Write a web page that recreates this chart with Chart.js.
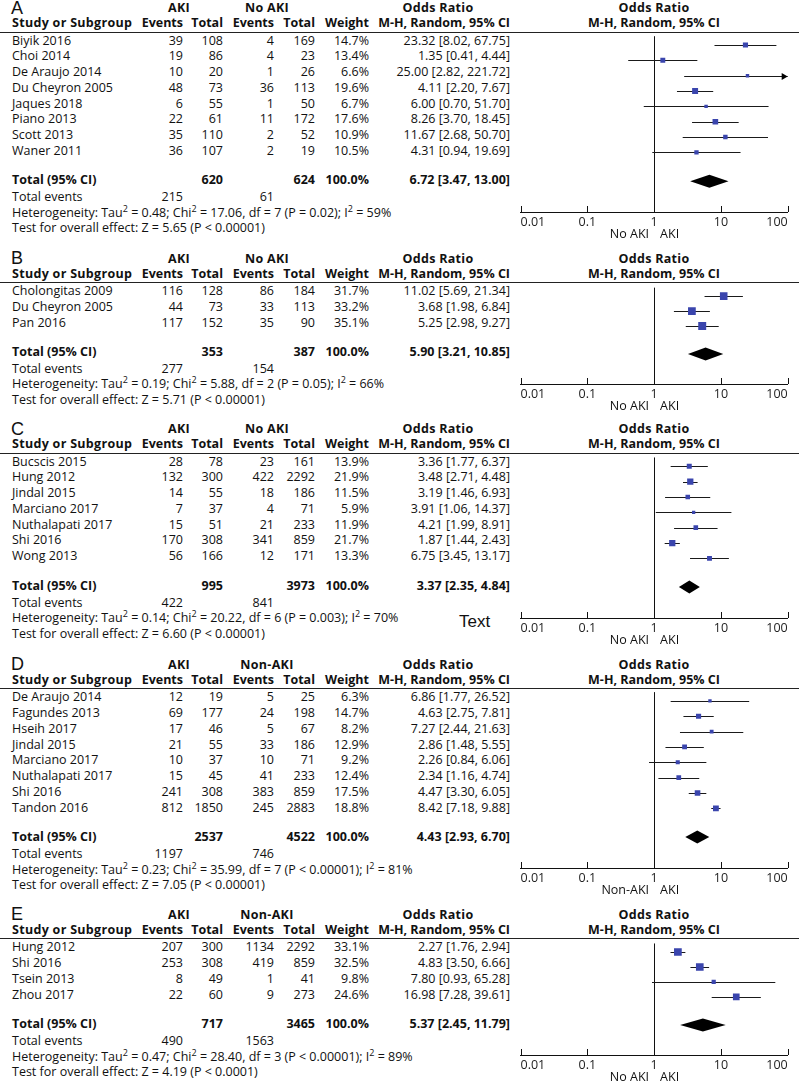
<!DOCTYPE html>
<html>
<head>
<meta charset="utf-8">
<script src="https://cdn.jsdelivr.net/npm/chart.js@4.4.1/dist/chart.umd.min.js"></script>
<style>
    body { margin: 0; background: #fff; }
    #page { position: relative; width: 799px; height: 1085px; overflow: hidden;
            font-family: "Open Sans", sans-serif; font-size: 12.5px; color: #111; }
    .t { position: absolute; white-space: nowrap; line-height: 16px; height: 16px; }
    .b { font-weight: bold; }
    .hd { letter-spacing: 0.3px; }
    .letter { font-family: "Liberation Sans", sans-serif; font-size: 18px; }
    .big { font-family: "Liberation Sans", sans-serif; font-size: 17px; }
    .rule { position: absolute; left: 0; width: 799px; height: 1px; background: #222; }
    sup { font-size: 9px; line-height: 0; vertical-align: 5px; }
    canvas { position: absolute; }
</style>
</head>
<body>
<div id="page"></div>
<script>
// x axis ticks
var tickValues = [0.01, 0.1, 1, 10, 100];
var tickLabels = ['0.01', '0.1', '1', '10', '100'];

// Panel A
var studiesA = ['Biyik 2016', 'Choi 2014', 'De Araujo 2014', 'Du Cheyron 2005', 'Jaques 2018', 'Piano 2013', 'Scott 2013', 'Waner 2011'];
var akiEventsA = [39, 19, 10, 48, 6, 22, 35, 36];
var akiTotalA = [108, 86, 20, 73, 55, 61, 110, 107];
var ctlEventsA = [4, 4, 1, 36, 1, 11, 2, 2];
var ctlTotalA = [169, 23, 26, 113, 50, 172, 52, 19];
var weightA = [14.7, 13.4, 6.6, 19.6, 6.7, 17.6, 10.9, 10.5];
var orA = [23.32, 1.35, 25.00, 4.11, 6.00, 8.26, 11.67, 4.31];
var lowA = [8.02, 0.41, 2.82, 2.20, 0.70, 3.70, 2.68, 0.94];
var highA = [67.75, 4.44, 221.72, 7.67, 51.70, 18.45, 50.70, 19.69];
var pooledA = [6.72, 3.47, 13.00];
var totalsA = [620, 624];
var eventsA = [215, 61];
var hetA = 'Tau<sup>2</sup> = 0.48; Chi<sup>2</sup> = 17.06, df = 7 (P = 0.02); I<sup>2</sup> = 59%';
var testA = 'Z = 5.65 (P &lt; 0.00001)';

// Panel B
var studiesB = ['Cholongitas 2009', 'Du Cheyron 2005', 'Pan 2016'];
var akiEventsB = [116, 44, 117];
var akiTotalB = [128, 73, 152];
var ctlEventsB = [86, 33, 35];
var ctlTotalB = [184, 113, 90];
var weightB = [31.7, 33.2, 35.1];
var orB = [11.02, 3.68, 5.25];
var lowB = [5.69, 1.98, 2.98];
var highB = [21.34, 6.84, 9.27];
var pooledB = [5.90, 3.21, 10.85];
var totalsB = [353, 387];
var eventsB = [277, 154];
var hetB = 'Tau<sup>2</sup> = 0.19; Chi<sup>2</sup> = 5.88, df = 2 (P = 0.05); I<sup>2</sup> = 66%';
var testB = 'Z = 5.71 (P &lt; 0.00001)';

// Panel C
var studiesC = ['Bucscis 2015', 'Hung 2012', 'Jindal 2015', 'Marciano 2017', 'Nuthalapati 2017', 'Shi 2016', 'Wong 2013'];
var akiEventsC = [28, 132, 14, 7, 15, 170, 56];
var akiTotalC = [78, 300, 55, 37, 51, 308, 166];
var ctlEventsC = [23, 422, 18, 4, 21, 341, 12];
var ctlTotalC = [161, 2292, 186, 71, 233, 859, 171];
var weightC = [13.9, 21.9, 11.5, 5.9, 11.9, 21.7, 13.3];
var orC = [3.36, 3.48, 3.19, 3.91, 4.21, 1.87, 6.75];
var lowC = [1.77, 2.71, 1.46, 1.06, 1.99, 1.44, 3.45];
var highC = [6.37, 4.48, 6.93, 14.37, 8.91, 2.43, 13.17];
var pooledC = [3.37, 2.35, 4.84];
var totalsC = [995, 3973];
var eventsC = [422, 841];
var hetC = 'Tau<sup>2</sup> = 0.14; Chi<sup>2</sup> = 20.22, df = 6 (P = 0.003); I<sup>2</sup> = 70%';
var testC = 'Z = 6.60 (P &lt; 0.00001)';

// Panel D
var studiesD = ['De Araujo 2014', 'Fagundes 2013', 'Hseih 2017', 'Jindal 2015', 'Marciano 2017', 'Nuthalapati 2017', 'Shi 2016', 'Tandon 2016'];
var akiEventsD = [12, 69, 17, 21, 10, 15, 241, 812];
var akiTotalD = [19, 177, 46, 55, 37, 45, 308, 1850];
var ctlEventsD = [5, 24, 5, 33, 10, 41, 383, 245];
var ctlTotalD = [25, 198, 67, 186, 71, 233, 859, 2883];
var weightD = [6.3, 14.7, 8.2, 12.9, 9.2, 12.4, 17.5, 18.8];
var orD = [6.86, 4.63, 7.27, 2.86, 2.26, 2.34, 4.47, 8.42];
var lowD = [1.77, 2.75, 2.44, 1.48, 0.84, 1.16, 3.30, 7.18];
var highD = [26.52, 7.81, 21.63, 5.55, 6.06, 4.74, 6.05, 9.88];
var pooledD = [4.43, 2.93, 6.70];
var totalsD = [2537, 4522];
var eventsD = [1197, 746];
var hetD = 'Tau<sup>2</sup> = 0.23; Chi<sup>2</sup> = 35.99, df = 7 (P &lt; 0.00001); I<sup>2</sup> = 81%';
var testD = 'Z = 7.05 (P &lt; 0.00001)';

// Panel E
var studiesE = ['Hung 2012', 'Shi 2016', 'Tsein 2013', 'Zhou 2017'];
var akiEventsE = [207, 253, 8, 22];
var akiTotalE = [300, 308, 49, 60];
var ctlEventsE = [1134, 419, 1, 9];
var ctlTotalE = [2292, 859, 41, 273];
var weightE = [33.1, 32.5, 9.8, 24.6];
var orE = [2.27, 4.83, 7.80, 16.98];
var lowE = [1.76, 3.50, 0.93, 7.28];
var highE = [2.94, 6.66, 65.28, 39.61];
var pooledE = [5.37, 2.45, 11.79];
var totalsE = [717, 3465];
var eventsE = [490, 1563];
var hetE = 'Tau<sup>2</sup> = 0.47; Chi<sup>2</sup> = 28.40, df = 3 (P &lt; 0.00001); I<sup>2</sup> = 89%';
var testE = 'Z = 4.19 (P &lt; 0.0001)';

var panels = [
    { letter: 'A', first: 40.7, group: 'No AKI', axis: 'No AKI', studies: studiesA, ae: akiEventsA, at: akiTotalA, ce: ctlEventsA, ct: ctlTotalA, w: weightA, or: orA, lo: lowA, hi: highA, pooled: pooledA, totals: totalsA, events: eventsA, het: hetA, test: testA },
    { letter: 'B', first: 291, group: 'No AKI', axis: 'No AKI', studies: studiesB, ae: akiEventsB, at: akiTotalB, ce: ctlEventsB, ct: ctlTotalB, w: weightB, or: orB, lo: lowB, hi: highB, pooled: pooledB, totals: totalsB, events: eventsB, het: hetB, test: testB },
    { letter: 'C', first: 461.7, group: 'No AKI', axis: 'No AKI', studies: studiesC, ae: akiEventsC, at: akiTotalC, ce: ctlEventsC, ct: ctlTotalC, w: weightC, or: orC, lo: lowC, hi: highC, pooled: pooledC, totals: totalsC, events: eventsC, het: hetC, test: testC },
    { letter: 'D', first: 697.3, group: 'Non-AKI', axis: 'Non-AKI', studies: studiesD, ae: akiEventsD, at: akiTotalD, ce: ctlEventsD, ct: ctlTotalD, w: weightD, or: orD, lo: lowD, hi: highD, pooled: pooledD, totals: totalsD, events: eventsD, het: hetD, test: testD },
    { letter: 'E', first: 947.3, group: 'Non-AKI', axis: 'No AKI', studies: studiesE, ae: akiEventsE, at: akiTotalE, ce: ctlEventsE, ct: ctlTotalE, w: weightE, or: orE, lo: lowE, hi: highE, pooled: pooledE, totals: totalsE, events: eventsE, het: hetE, test: testE }
];

var page = document.getElementById('page');
var UNIT = 15.75;
var YMIN = -0.57;

function txt(s, x, y, align, cls) {
    var d = document.createElement('div');
    d.className = 't ' + (cls || '');
    d.innerHTML = s;
    d.style.top = (y - 8) + 'px';
    if (align === 'r') {
        d.style.right = (799 - x) + 'px';
    } else if (align === 'c') {
        d.style.left = x + 'px';
        d.style.transform = 'translateX(-50%)';
    } else {
        d.style.left = x + 'px';
    }
    page.appendChild(d);
}

function ciText(o, l, h) {
    return o.toFixed(2) + ' [' + l.toFixed(2) + ', ' + h.toFixed(2) + ']';
}

panels.forEach(function (p) {
    var n = p.studies.length;
    var ymax = n + 2.88;
    var tot = n + 0.87;
    var rule = p.first + YMIN * UNIT;
    var rowY = function (i) { return p.first + i * UNIT; };

    // header
    txt(p.letter, 11, rule - 24, 'l', 'letter');
    txt('AKI', 179, rule - 23.5, 'c', 'b hd');
    txt(p.group, 267, rule - 23.5, 'c', 'b hd');
    txt('Odds Ratio', 438, rule - 23.5, 'c', 'b hd');
    txt('Odds Ratio', 654, rule - 23.5, 'c', 'b hd');
    var hy = rule - 8.3;
    txt('Study or Subgroup', 12, hy, 'l', 'b hd');
    txt('Events', 183, hy, 'r', 'b');
    txt('Total', 223, hy, 'r', 'b');
    txt('Events', 274, hy, 'r', 'b');
    txt('Total', 315, hy, 'r', 'b');
    txt('Weight', 369, hy, 'r', 'b');
    txt('M-H, Random, 95% CI', 510, hy, 'r', 'b');
    txt('M-H, Random, 95% CI', 654, hy, 'c', 'b');

    var rl = document.createElement('div');
    rl.className = 'rule';
    rl.style.top = Math.round(rule) + 'px';
    page.appendChild(rl);

    // study rows
    p.studies.forEach(function (s, i) {
        var y = rowY(i);
        txt(s, 12, y, 'l');
        txt(p.ae[i], 183, y, 'r');
        txt(p.at[i], 223, y, 'r');
        txt(p.ce[i], 274, y, 'r');
        txt(p.ct[i], 315, y, 'r');
        txt(p.w[i].toFixed(1) + '%', 369, y, 'r');
        txt(ciText(p.or[i], p.lo[i], p.hi[i]), 510, y, 'r');
    });

    // total rows
    var ty = rowY(tot);
    txt('Total (95% CI)', 12, ty, 'l', 'b');
    txt(p.totals[0], 223, ty, 'r', 'b');
    txt(p.totals[1], 315, ty, 'r', 'b');
    txt('100.0%', 369, ty, 'r', 'b');
    txt(ciText(p.pooled[0], p.pooled[1], p.pooled[2]), 510, ty, 'r', 'b');
    txt('Total events', 12, ty + 17, 'l');
    txt(p.events[0], 183, ty + 17, 'r');
    txt(p.events[1], 274, ty + 17, 'r');
    txt('Heterogeneity: ' + p.het, 12, ty + 32.5, 'l');
    txt('Test for overall effect: ' + p.test, 12, ty + 48, 'l');

    // forest plot
    var areaH = (ymax - YMIN) * UNIT;
    var cv = document.createElement('canvas');
    cv.width = 299;
    cv.height = Math.round(areaH + 30);
    cv.style.left = '500px';
    cv.style.top = Math.round(rule) + 'px';
    page.appendChild(cv);

    var forest = {
        id: 'forest',
        beforeDatasetsDraw: function (chart) {
            var ctx = chart.ctx, xs = chart.scales.x, ys = chart.scales.y;
            ctx.save();
            ctx.strokeStyle = '#1a1a1a';
            ctx.fillStyle = '#000';
            ctx.lineWidth = 1;
            p.lo.forEach(function (lo, i) {
                var y = Math.round(ys.getPixelForValue(i)) + 0.5;
                var hi = Math.min(p.hi[i], xs.max);
                var x2 = xs.getPixelForValue(hi);
                ctx.beginPath();
                ctx.moveTo(xs.getPixelForValue(lo), y);
                ctx.lineTo(x2, y);
                ctx.stroke();
                if (p.hi[i] > xs.max) {
                    ctx.beginPath();
                    ctx.moveTo(x2, y);
                    ctx.lineTo(x2 - 6, y - 3.5);
                    ctx.lineTo(x2 - 6, y + 3.5);
                    ctx.closePath();
                    ctx.fill();
                }
            });
            var yd = ys.getPixelForValue(tot);
            ctx.beginPath();
            ctx.moveTo(xs.getPixelForValue(p.pooled[1]), yd);
            ctx.lineTo(xs.getPixelForValue(p.pooled[0]), yd - 6.5);
            ctx.lineTo(xs.getPixelForValue(p.pooled[2]), yd);
            ctx.lineTo(xs.getPixelForValue(p.pooled[0]), yd + 6.5);
            ctx.closePath();
            ctx.fill();
            ctx.restore();
        },
        afterDraw: function (chart) {
            var ctx = chart.ctx, xs = chart.scales.x;
            var bottom = chart.chartArea.bottom;
            ctx.save();
            ctx.strokeStyle = '#111';
            ctx.lineWidth = 1;
            tickValues.forEach(function (v) {
                var x = Math.round(xs.getPixelForValue(v)) + 0.5;
                ctx.beginPath();
                ctx.moveTo(x, bottom);
                ctx.lineTo(x, bottom - 6);
                ctx.stroke();
            });
            var x1 = xs.getPixelForValue(1);
            ctx.font = '12.5px "Open Sans"';
            ctx.fillStyle = '#111';
            ctx.textBaseline = 'middle';
            ctx.textAlign = 'right';
            ctx.fillText(p.axis, x1 - 5, bottom + 22);
            ctx.textAlign = 'left';
            ctx.fillText('AKI', x1 + 6, bottom + 22);
            ctx.restore();
        }
    };

    new Chart(cv, {
        type: 'scatter',
        data: {
            datasets: [{
                data: p.or.map(function (v, i) { return { x: v, y: i }; }),
                pointStyle: 'rect',
                pointRadius: function (c) { return 0.95 * Math.sqrt(p.w[c.dataIndex]); },
                backgroundColor: '#3a45ad',
                borderColor: '#3a45ad',
                borderWidth: 0
            }]
        },
        options: {
            responsive: false,
            animation: false,
            events: [],
            layout: { padding: { left: 20.5, right: 11.3, top: 0, bottom: 0 } },
            plugins: { legend: { display: false }, tooltip: { enabled: false } },
            scales: {
                x: {
                    type: 'logarithmic',
                    min: 0.01,
                    max: 100,
                    afterBuildTicks: function (s) {
                        s.ticks = tickValues.map(function (v) { return { value: v }; });
                    },
                    afterFit: function (s) { s.height = 30; },
                    grid: {
                        drawTicks: false,
                        lineWidth: 1,
                        color: function (c) {
                            return (c.tick && c.tick.value === 1) ? '#111' : 'rgba(0,0,0,0)';
                        }
                    },
                    border: { display: true, color: '#111', width: 1 },
                    ticks: {
                        align: 'inner',
                        padding: 3,
                        autoSkip: false,
                        maxRotation: 0,
                        color: '#222',
                        font: { family: 'Open Sans', size: 12.5 },
                        callback: function (v, i) { return tickLabels[i]; }
                    }
                },
                y: { type: 'linear', reverse: true, min: YMIN, max: ymax, display: false }
            }
        },
        plugins: [forest]
    });
});

// stray label in panel C
txt('Text', 459, 621.7, 'l', 'big');
</script>
</body>
</html>
